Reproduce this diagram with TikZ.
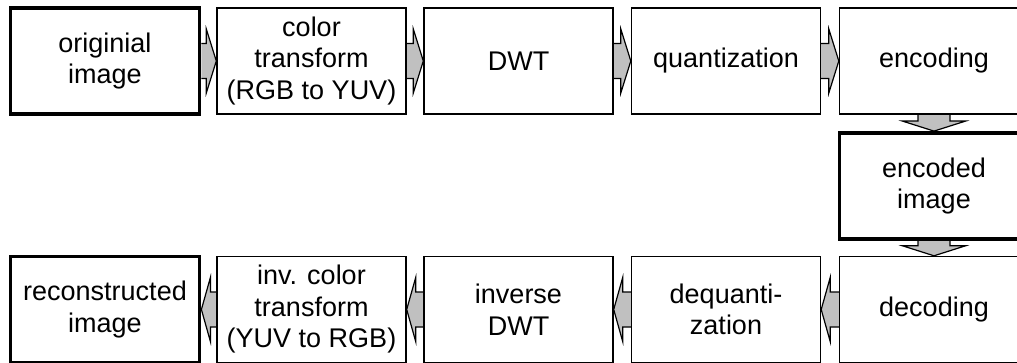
\documentclass[tikz,border=0pt]{standalone}
\usepackage{fontspec}
\setmainfont{Liberation Sans}
\usetikzlibrary{calc,backgrounds}
\definecolor{arrgray}{RGB}{192,192,192}

% block arrows between two anchors: shaft from the first, head ending at the second
\newcommand\arrowright[2]{\draw[blockarr] let \p1=(#1), \p2=(#2) in
  (\x1,\y1+17.5pt) -- (\x2-10pt,\y1+17.5pt) -- (\x2-10pt,\y1+32pt) -- (\x2,\y1)
  -- (\x2-10pt,\y1-32pt) -- (\x2-10pt,\y1-17.5pt) -- (\x1,\y1-17.5pt);}
\newcommand\arrowleft[2]{\draw[blockarr] let \p1=(#1), \p2=(#2) in
  (\x1,\y1+17.5pt) -- (\x2+9pt,\y1+17.5pt) -- (\x2+9pt,\y1+32pt) -- (\x2,\y1)
  -- (\x2+9pt,\y1-32pt) -- (\x2+9pt,\y1-17.5pt) -- (\x1,\y1-17.5pt);}
\newcommand\arrowdown[2]{\draw[blockarr] let \p1=(#1), \p2=(#2) in
  (\x1-16pt,\y1) -- (\x1-16pt,\y2+10pt) -- (\x1-31.5pt,\y2+10pt) -- (\x1,\y2)
  -- (\x1+31.5pt,\y2+10pt) -- (\x1+16pt,\y2+10pt) -- (\x1+16pt,\y1);}

\begin{document}
\begin{tikzpicture}[x=1pt,y=1pt,
  box/.style={draw, rectangle, line width=1.4pt, minimum width=189pt,
    minimum height=106pt, align=center, inner sep=2pt,
    font=\fontsize{27}{31.5}\selectfont},
  thickbox/.style={box, line width=3.8pt},
  blockarr/.style={draw, line width=1.2pt, fill=arrgray, line join=miter}]
\useasboundingbox (0,0) rectangle (1017,362);

% encoder row
\node[thickbox] (orig) at (105,301) {originial\\image};
\node[box] (ct)   at (311.5,301) {color\\transform\\(RGB to YUV)};
\node[box] (dwt)  at (518.5,301) {DWT};
\node[box] (q)    at (726,301) {quantization};
\node[box] (enc)  at (934,301) {encoding};

% stored stream
\node[thickbox] (encimg) at (934,176) {encoded\\image};

% decoder row
\node[box] (dec)  at (934,52.5) {decoding};
\node[box] (dq)   at (726,52.5) {dequanti-\\zation};
\node[box] (idwt) at (518.5,52.5) {inverse\\DWT};
\node[box] (ict)  at (311.5,52.5) {inv. color\\transform\\(YUV to RGB)};
\node[thickbox] (rec) at (105,52.5) {reconstructed\\image};

\begin{scope}[on background layer]
  \arrowright{orig.east}{ct.west}
  \arrowright{ct.east}{dwt.west}
  \arrowright{dwt.east}{q.west}
  \arrowright{q.east}{enc.west}
  \arrowdown{enc.south}{encimg.north}
  \arrowdown{encimg.south}{dec.north}
  \arrowleft{dec.west}{dq.east}
  \arrowleft{dq.west}{idwt.east}
  \arrowleft{idwt.west}{ict.east}
  \arrowleft{ict.west}{rec.east}
\end{scope}
\end{tikzpicture}
\end{document}
